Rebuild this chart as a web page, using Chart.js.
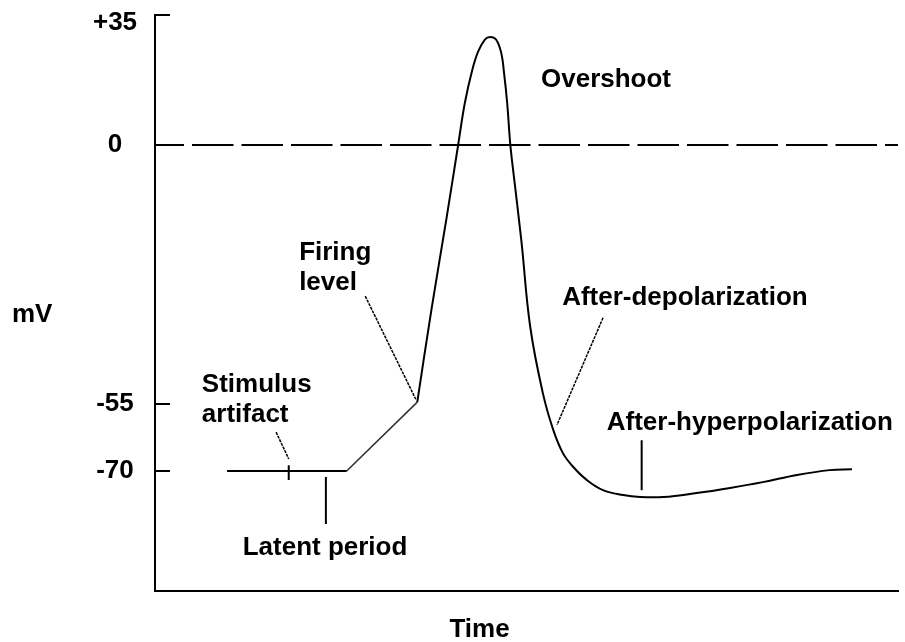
<!DOCTYPE html>
<html><head><meta charset="utf-8">
<script src="https://cdn.jsdelivr.net/npm/chart.js@4/dist/chart.umd.min.js"></script>
<style>html,body{margin:0;padding:0;background:#fff}#wrap{width:905px;height:642px}</style>
</head><body><div id="wrap"><canvas id="c" width="905" height="642"></canvas></div>
<script>
// ---------- data (time in arbitrary units 0..100, membrane potential in mV) ----------
const yTicks = [35, 0, -55, -70];
const yTickLabels = ['+35', '0', '-55', '-70'];

const baselineT = [9.7, 25.8];
const baselineMv = [-70, -70];

const rampT = [25.8, 35.3];
const rampMv = [-70, -54.6];

const spikeT = [35.3, 37.2, 39.2, 40.8, 41.7, 42.7, 43.5, 44.4, 45.1, 45.9, 46.6, 47.0, 47.4, 47.8, 48.1,
  49.3, 50.5, 52.2, 53.6, 54.9, 56.3, 58.1, 60.3, 63.0, 65.3, 68.4, 72.9, 77.4, 81.8, 86.4, 90.8, 93.8];
const spikeMv = [-54.6, -35.0, -15.9, 0, 11.3, 20.2, 25.2, 28.4, 29.1, 28.4, 24.8, 19.0, 11.3, 0.5, -4.0,
  -20.2, -38.6, -52.7, -60.8, -66.0, -69.1, -72.0, -74.3, -75.4, -75.85, -75.85, -74.95, -73.8, -72.5, -70.9, -69.8, -69.6];

const zeroT = [0, 100];
const zeroMv = [0, 0];

// annotation pointer lines [t0, mv0, t1, mv1]
const firingPointer = [28.3, -32.1, 35.1, -54.0];
const stimulusPointer = [16.3, -61.3, 18.0, -67.3];
const depolPointer = [60.3, -36.7, 54.1, -59.7];
// vertical markers [t, mvTop, mvBottom]
const stimulusTick = [18.0, -68.7, -72.0];
const latentMarker = [23.0, -71.35, -81.9];
const hyperMarker = [65.5, -63.1, -74.3];

// annotation texts with anchor (t, mV) of the left end of the text baseline
const noteTexts = ['Overshoot', 'Firing', 'level', 'Stimulus', 'artifact', 'Latent period', 'After-depolarization', 'After-hyperpolarization'];
const noteT = [51.95, 19.4, 19.4, 6.3, 6.3, 11.8, 54.8, 60.8];
const noteMv = [15.6, -24.4, -30.8, -52.5, -59.0, -88.9, -34.0, -60.8];

const xTitle = 'Time';
const yTitle = 'mV';

// ---------- non-uniform (schematic) y axis: anchor values and their axis fractions ----------
const yAnchorValues = [-97, -70, -55, 0, 35];
const yAnchorDecimals = [0, 0.2083, 0.3247, 0.7743, 1];

const LinearScale = Chart.LinearScale || Chart.registry.getScale('linear');
class PiecewiseScale extends LinearScale {
  getPixelForValue(value) {
    if (value === null || value === undefined || isNaN(value)) return NaN;
    const v = yAnchorValues, d = yAnchorDecimals;
    let i = 0;
    while (i < v.length - 2 && value > v[i + 1]) i++;
    const dec = d[i] + (value - v[i]) * (d[i + 1] - d[i]) / (v[i + 1] - v[i]);
    return this.getPixelForDecimal(dec);
  }
  getValueForPixel(pixel) {
    const dec = this.getDecimalForPixel(pixel);
    const v = yAnchorValues, d = yAnchorDecimals;
    let i = 0;
    while (i < d.length - 2 && dec > d[i + 1]) i++;
    return v[i] + (dec - d[i]) * (v[i + 1] - v[i]) / (d[i + 1] - d[i]);
  }
}
PiecewiseScale.id = 'piecewise';
PiecewiseScale.defaults = LinearScale.defaults;
Chart.register(PiecewiseScale);

const pts = (ts, ms) => ts.map((t, i) => ({x: t, y: ms[i]}));
const seg = a => [{x: a[0], y: a[1]}, {x: a[2], y: a[3]}];
const vert = a => [{x: a[0], y: a[1]}, {x: a[0], y: a[2]}];

const FONT = '"Liberation Sans", Arial, sans-serif';
Chart.defaults.font.family = FONT;

const lineDs = (data, extra) => Object.assign({
  data, borderColor: '#000', borderWidth: 2, pointRadius: 0, fill: false, tension: 0
}, extra || {});

const overlay = {
  id: 'overlay',
  afterDraw(chart) {
    const {ctx, chartArea} = chart;
    const x = chart.scales.x, y = chart.scales.y;
    ctx.save();
    ctx.strokeStyle = '#000';
    ctx.fillStyle = '#000';
    ctx.lineWidth = 2;
    ctx.font = 'bold 26px ' + FONT;
    // y tick marks (inside) and labels
    yTicks.forEach((v, i) => {
      const py = Math.round(y.getPixelForValue(v));
      ctx.beginPath();
      ctx.moveTo(chartArea.left, py);
      ctx.lineTo(chartArea.left + 15, py);
      ctx.stroke();
      ctx.textAlign = 'center';
      ctx.textBaseline = 'middle';
      ctx.fillText(yTickLabels[i], chartArea.left - 40, Math.max(py, chartArea.top + 8));
    });
    // annotation texts
    ctx.textAlign = 'left';
    ctx.textBaseline = 'alphabetic';
    noteTexts.forEach((s, i) => {
      ctx.fillText(s, x.getPixelForValue(noteT[i]), y.getPixelForValue(noteMv[i]));
    });
    // axis titles
    ctx.fillText(yTitle, 12, (chartArea.top + chartArea.bottom) / 2 + 19);
    ctx.textAlign = 'center';
    ctx.fillText(xTitle, (chartArea.left + chartArea.right) / 2 - 47, chartArea.bottom + 46);
    ctx.restore();
  }
};

new Chart(document.getElementById('c'), {
  type: 'line',
  data: {
    datasets: [
      lineDs(pts(zeroT, zeroMv), {borderWidth: 2, borderDash: [41.5, 8], borderDashOffset: 12.5}),
      lineDs(pts(baselineT, baselineMv)),
      lineDs(pts(rampT, rampMv), {borderColor: '#333', borderWidth: 1.6}),
      lineDs(pts(spikeT, spikeMv), {tension: 0.4, borderWidth: 2}),
      lineDs(seg(firingPointer), {borderWidth: 1.5, borderColor: '#000', borderDash: [3, 1]}),
      lineDs(seg(stimulusPointer), {borderWidth: 1.5, borderColor: '#000', borderDash: [3, 1]}),
      lineDs(seg(depolPointer), {borderWidth: 1.5, borderColor: '#000', borderDash: [3, 1]}),
      lineDs(vert(stimulusTick)),
      lineDs(vert(latentMarker)),
      lineDs(vert(hyperMarker))
    ]
  },
  options: {
    responsive: false,
    animation: false,
    layout: {padding: {left: 155, top: 15, right: 7, bottom: 51}},
    plugins: {legend: {display: false}, tooltip: {enabled: false}, title: {display: false}},
    scales: {
      x: {
        type: 'linear', min: 0, max: 100,
        grid: {display: false, drawTicks: false},
        border: {display: true, color: '#000', width: 2},
        ticks: {display: false}
      },
      y: {
        type: 'piecewise', min: -97, max: 35,
        afterBuildTicks: s => { s.ticks = yTicks.map(v => ({value: v})); },
        grid: {display: false, drawTicks: false},
        border: {display: true, color: '#000', width: 2},
        ticks: {display: false}
      }
    }
  },
  plugins: [overlay]
});
</script></body></html>
